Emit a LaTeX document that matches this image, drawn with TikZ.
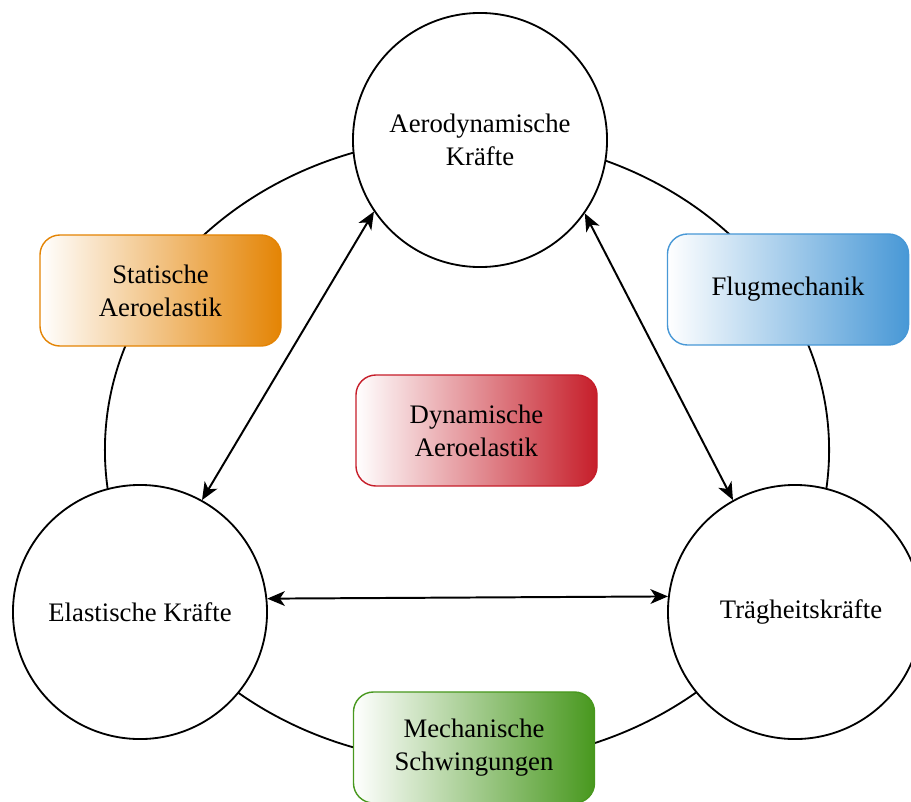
\documentclass[tikz,border=0pt]{standalone}
\usepackage{fontspec}
\setmainfont{Liberation Serif}
\usetikzlibrary{shapes, arrows.meta, positioning}

\definecolor{orangeAE}{RGB}{228,132,4}
\definecolor{blueFM}{RGB}{72,152,214}
\definecolor{redDA}{RGB}{198,30,42}
\definecolor{greenMS}{RGB}{72,152,30}

\begin{document}
\begin{tikzpicture}[x=0.025cm, y=-0.025cm,
  font=\fontsize{19}{23.5}\selectfont,
  force/.style={circle, draw, line width=1.3pt, fill=white, minimum size=6.35cm, align=center, inner sep=0pt},
  field/.style={rounded corners=0.5cm, draw=#1, line width=1pt, left color=white, right color=#1, minimum width=6.025cm, minimum height=2.775cm, align=center},
  link/.style={{Stealth[length=12.5pt,width=10.5pt,inset=3.5pt]}-{Stealth[length=12.5pt,width=10.5pt,inset=3.5pt]}, line width=1.4pt}]
\useasboundingbox (0,0) rectangle (911,801);

% Ring behind the forces
\draw[line width=1.3pt] (467,450) ellipse [x radius=9.05cm, y radius=7.825cm];

% Disciplines
\node[field=orangeAE] (static) at (160.5,290.5) {Statische\\Aeroelastik};
\node[field=blueFM] (flight) at (788,289.5) {Flugmechanik};
\node[field=redDA] (dynamic) at (476.5,430.5) {Dynamische\\Aeroelastik};
\node[field=greenMS] (vibration) at (474,747.5) {Mechanische\\Schwingungen};

% Forces
\node[force] (aero) at (480,140) {Aerodynamische\\Kräfte};
\node[force] (elastic) at (140,612) {Elastische Kräfte};
\node[force] (inertia) at (795,612) {\hspace*{0.3cm}Trägheitskräfte};

% Interactions
\draw[link] (aero.214) -- (elastic.61);
\draw[link] (aero.325) -- (inertia.119);
\draw[link] (elastic.6) -- (inertia.173);
\end{tikzpicture}
\end{document}
